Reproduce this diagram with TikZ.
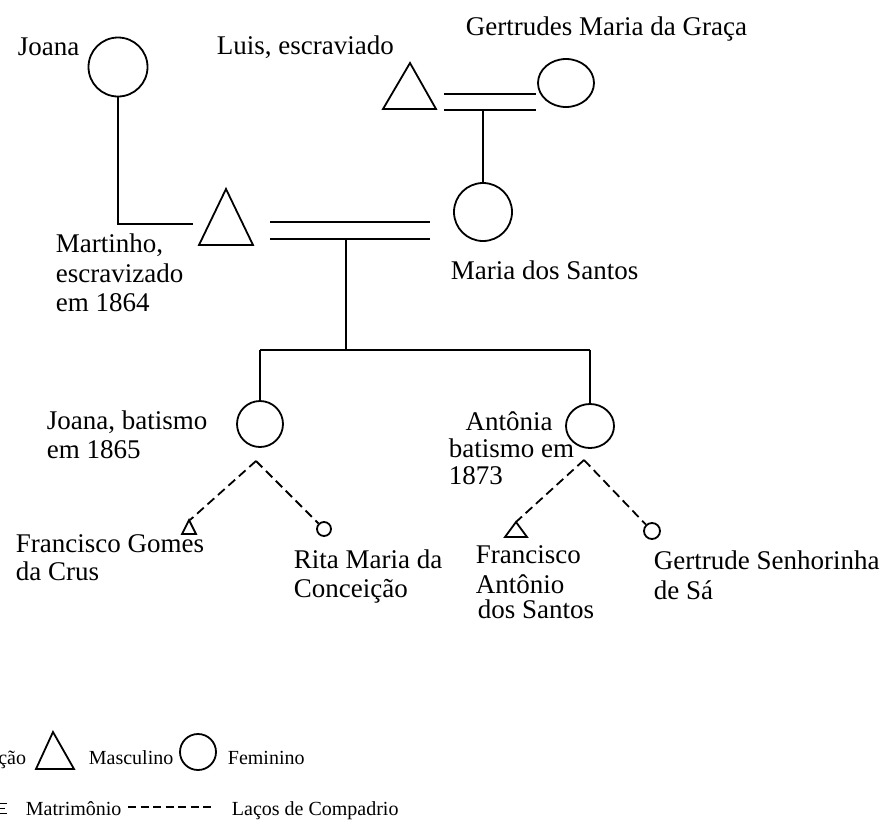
\documentclass[tikz,border=0pt]{standalone}
\usepackage{fontspec}
\setmainfont{Liberation Serif}
\usetikzlibrary{shapes.geometric}
\begin{document}
\begin{tikzpicture}[x=1pt,y=-1pt,line width=1.8pt,
  lbl/.style={font=\fontsize{27}{30}\selectfont, inner sep=0, anchor=base west},
  leg/.style={font=\fontsize{20}{22}\selectfont, inner sep=0, anchor=base west},
  fem/.style={draw, circle, inner sep=0, minimum size=#1},
  femel/.style={draw, ellipse, inner sep=0},
  compadrio/.style={dashed, dash pattern=on 9pt off 5pt}]
\useasboundingbox (0,0) rectangle (883,820);
\clip (0,0) rectangle (883,820);

% ---------- top generation ----------
\node[fem=59pt] (joana) at (118,67) {};
\node[lbl] (tjoana) at (17,55) {Joana};

\draw (410,63) -- (383,109) -- (436,109) -- cycle;
\coordinate (luis) at (410,86);
\node[lbl] (tluis) at (216,54) {Luis, escraviado};

\node[femel, minimum width=56pt, minimum height=48pt] (gert) at (566,83) {};
\node[lbl] (tgert) at (465,35) {Gertrudes Maria da Graça};

% marriage Luis - Gertrudes
\coordinate (m2a) at (444,94);  \coordinate (m2b) at (536,94);
\coordinate (m2c) at (444,110); \coordinate (m2d) at (536,110);
\draw (m2a) -- (m2b);
\draw (m2c) -- (m2d);
\coordinate (m2down) at (483,110);

% ---------- second generation ----------
\draw (226,189) -- (199,245) -- (253,245) -- cycle;
\coordinate (mart) at (193,224);
\node[lbl] (tmart1) at (55,252) {Martinho,};
\node[lbl] (tmart2) at (55,282) {escravizado};
\node[lbl] (tmart3) at (55,311) {em 1864};

\node[fem=58pt] (maria) at (483,212) {};
\node[lbl] (tmaria) at (450,279) {Maria dos Santos};

\draw (joana.south) |- (mart);
\draw (m2down) -- (maria.north);

% marriage Martinho - Maria
\coordinate (m1a) at (270,222); \coordinate (m1b) at (430,222);
\coordinate (m1c) at (270,239); \coordinate (m1d) at (430,239);
\draw (m1a) -- (m1b);
\draw (m1c) -- (m1d);
\coordinate (m1down) at (346,239);
\coordinate (bar) at (346,350);
\draw (m1down) -- (bar);

% ---------- children ----------
\node[fem=46pt] (joana2) at (260,424) {};
\node[femel, minimum width=48pt, minimum height=44pt] (anto) at (590,426) {};
\coordinate (barL) at (260,350);
\coordinate (barR) at (590,350);
\draw (barL) -- (barR);
\draw (barL) -- (joana2.north);
\draw (barR) -- (anto.north);

\node[lbl] (tj2a) at (46,429) {Joana, batismo};
\node[lbl] (tj2b) at (46,458) {em 1865};
\node[lbl, anchor=base] (ta1) at (509,430) {Antônia};
\node[lbl] (ta2) at (448,457) {batismo em};
\node[lbl] (ta3) at (448,484) {1873};

% ---------- godparents ----------
\coordinate (g1) at (256,461);
\draw (189,520) -- (182,534) -- (196,534) -- cycle;
\coordinate (fg) at (190,520);
\node[fem=14pt] (rita) at (324,529) {};
\draw[compadrio] (g1) -- (fg);
\draw[compadrio] (g1) -- (rita);

\coordinate (g2) at (584,460);
\draw (516,522) -- (505,537) -- (527,537) -- cycle;
\coordinate (fa) at (516,522);
\node[fem=16pt] (gs) at (652,531) {};
\draw[compadrio] (g2) -- (fa);
\draw[compadrio] (g2) -- (gs);

\node[lbl] (tfg1) at (15,552) {Francisco Gomes};
\node[lbl] (tfg2) at (15,580) {da Crus};
\node[lbl] (tr1) at (293,568) {Rita Maria da};
\node[lbl] (tr2) at (293,597) {Conceição};
\node[lbl] (tfa1) at (475,563) {Francisco};
\node[lbl] (tfa2) at (475,593) {Antônio};
\node[lbl] (tfa3) at (477,618) {dos Santos};
\node[lbl] (tgs1) at (653,569) {Gertrude Senhorinha};
\node[lbl] (tgs2) at (653,599) {de Sá};

% ---------- legend ----------
\node[leg, anchor=base east] (lcao) at (27,764) {ção};
\draw (53,732) -- (36,769) -- (74,769) -- cycle;
\node[leg] (lmasc) at (88,764) {Masculino};
\node[fem=36pt] (lfem) at (198,752) {};
\node[leg] (lfemt) at (227,764) {Feminino};

\draw[line width=1.5pt] (0,803.5) -- (7,803.5) (0,808.5) -- (5,808.5) (0,813.5) -- (7,813.5);
\node[leg] (lmat) at (25,815) {Matrimônio};
\coordinate (ld1) at (128,807);
\coordinate (ld2) at (213,807);
\draw[line width=1.5pt, dash pattern=on 8pt off 4.5pt] (ld1) -- (ld2);
\node[leg] (llac) at (231,815) {Laços de Compadrio};
\end{tikzpicture}
\end{document}
